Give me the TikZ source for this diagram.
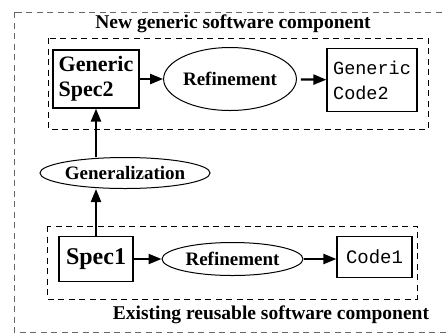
\documentclass[tikz,border=0pt]{standalone}
\usepackage{fontspec}
\setmainfont{Liberation Serif}
\setmonofont{Liberation Mono}
\usetikzlibrary{shapes.geometric,arrows.meta}

\begin{document}
\begin{tikzpicture}[x=1pt,y=-1pt,
    box/.style={draw,line width=1.2pt,inner sep=0pt,align=left},
    oval/.style={draw,ellipse,line width=1pt,inner sep=0pt,font=\bfseries\fontsize{19}{22}\selectfont},
    flow/.style={line width=2.2pt,-{Triangle[length=13pt,width=10pt]}},
    group/.style={line width=1pt,dash pattern=on 6pt off 4.5pt},
    caption/.style={font=\bfseries\fontsize{19.5}{22}\selectfont}]
    \clip (0,0) rectangle (446,333);
    % outer frame and the two component groups
    \draw[group,gray!80!black] (14,12) rectangle (480,332);
    \draw[group] (48,38) rectangle (428,129);
    \draw[group] (47,226) rectangle (417,299);
    \node[caption] (newlbl) at (233,24) {New generic software component};
    \node[caption] (oldlbl) at (271,315) {Existing reusable software component};
    % new generic component
    \node[box,minimum width=86pt,minimum height=58pt,font=\bfseries\fontsize{22}{25}\selectfont] (spectwo) at (96,79) {Generic\\Spec2};
    \node[oval,minimum width=115pt,minimum height=63pt] (reftop) at (230,79) {Refinement};
    \node[box,minimum width=90pt,minimum height=63pt,font=\ttfamily\fontsize{18.5}{25}\selectfont] (codetwo) at (372,80) {Generic\\Code2};
    % generalization step
    \node[oval,minimum width=155pt,minimum height=31pt] (gen) at (125,173) {Generalization};
    % existing component
    \node[box,minimum width=74pt,minimum height=45pt,font=\bfseries\fontsize{24}{28}\selectfont] (specone) at (96,259) {Spec1};
    \node[oval,minimum width=141pt,minimum height=33pt] (refbot) at (232.5,259) {Refinement};
    \node[box,minimum width=75pt,minimum height=41pt,font=\ttfamily\fontsize{19}{22}\selectfont] (codeone) at (374.5,257) {Code1};
    \draw[flow] (spectwo) -- (reftop);
    \draw[flow,shorten <=4pt] (reftop) -- (codetwo);
    \draw[flow] (specone.north) -- (specone.north |- gen.south);
    \draw[flow] (spectwo.south |- gen.north) -- (spectwo.south);
    \draw[flow] (specone) -- (refbot);
    \draw[flow] (refbot) -- (codeone.west |- refbot);
\end{tikzpicture}
\end{document}
